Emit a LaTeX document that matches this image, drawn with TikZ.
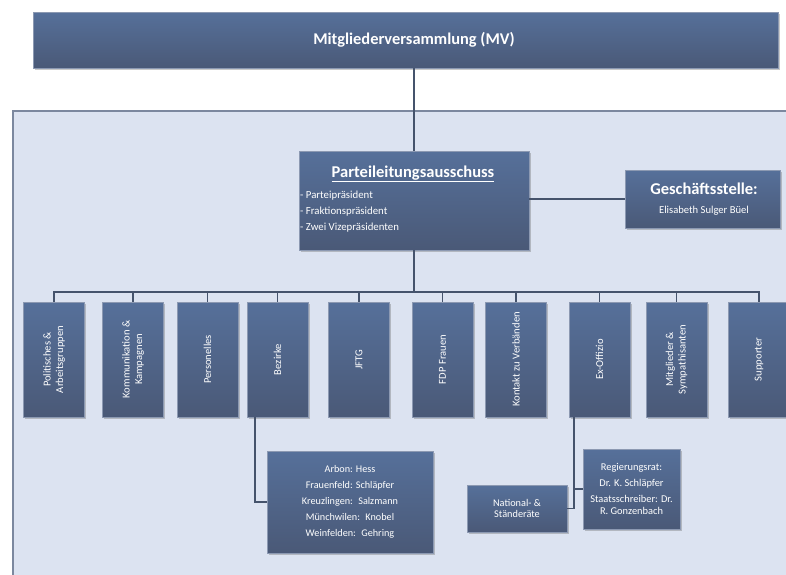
\documentclass[tikz,border=0pt]{standalone}
\usepackage{fontspec}
\setmainfont{Carlito}
\usetikzlibrary{shadows}
\definecolor{boxtop}{HTML}{56709A}
\definecolor{boxbot}{HTML}{4A5977}
\definecolor{boxedge}{HTML}{8C99B2}
\definecolor{panelfill}{HTML}{DCE3F1}
\definecolor{paneledge}{HTML}{7C889F}
\definecolor{connc}{HTML}{45536C}
\tikzset{
  orgbox/.style={rectangle, draw=boxedge, line width=0.5pt, top color=boxtop, bottom color=boxbot,
    drop shadow={shadow xshift=1.5pt, shadow yshift=-1.5pt, opacity=0.35, fill=black!60},
    inner sep=0pt, text=white, align=center},
  vbox/.style={orgbox, minimum width=61pt, minimum height=115pt},
  vlab/.style={rotate=90, text=white, font=\fontsize{10.6}{12.5}\selectfont, align=center, inner sep=0pt},
  wtext/.style={text=white, inner sep=0pt, align=center},
  conn/.style={draw=connc, line width=1.8pt},
}
\begin{document}
\begin{tikzpicture}[x=1pt,y=-1pt]
\useasboundingbox (0,0) rectangle (786,574);
\clip (0,0) rectangle (786,574);
\fill[white] (0,0) rectangle (786,574);
\node[draw=paneledge, fill=panelfill, line width=1.5pt, minimum width=790pt, minimum height=480pt,
  anchor=north west, inner sep=0pt] (panel) at (12,110) {};

% top
\node[orgbox, minimum width=745pt, minimum height=56pt] (mv) at (405.5,40) {};
\node[wtext, font=\bfseries\fontsize{16.4}{18}\selectfont] (mvt) at (414,40) {Mitgliederversammlung (MV)};

% Parteileitungsausschuss
\node[orgbox, minimum width=230pt, minimum height=99pt] (pla) at (414,200.5) {};
\node[wtext, font=\bfseries\fontsize{16.5}{18}\selectfont] (plat) at (413,174) {\underline{Parteileitungsausschuss}};
\node[wtext, anchor=west, font=\fontsize{10.8}{12}\selectfont] (pl1) at (300,196) {- Parteipräsident};
\node[wtext, anchor=west, font=\fontsize{10.8}{12}\selectfont] (pl2) at (300,212) {- Fraktionspräsident};
\node[wtext, anchor=west, font=\fontsize{10.8}{12}\selectfont] (pl3) at (300,228) {- Zwei Vizepräsidenten};

% Geschäftsstelle
\node[orgbox, minimum width=155pt, minimum height=58pt] (gs) at (702.5,199) {};
\node[wtext, font=\bfseries\fontsize{16.5}{18}\selectfont] (gst) at (704,189) {Geschäftsstelle:};
\node[wtext, font=\fontsize{10.6}{12}\selectfont] (gsn) at (704,211) {Elisabeth Sulger Büel};

% second row
\coordinate (bus) at (0,292);
\node[vbox, label={[vlab]center:Politisches \&\\Arbeitsgruppen}] (b1) at (54,359.5) {};
\node[vbox, label={[vlab]center:Kommunikation \&\\Kampagnen}] (b2) at (133,359.5) {};
\node[vbox, label={[vlab]center:Personelles}] (b3) at (207.5,359.5) {};
\node[vbox, label={[vlab]center:Bezirke}] (b4) at (277.5,359.5) {};
\node[vbox, label={[vlab]center:JFTG}] (b5) at (359,359.5) {};
\node[vbox, label={[vlab]center:FDP Frauen}] (b6) at (442.5,359.5) {};
\node[vbox, label={[vlab]center:Kontakt zu Verbänden}] (b7) at (516,359.5) {};
\node[vbox, label={[vlab]center:Ex-Offizio}] (b8) at (599.5,359.5) {};
\node[vbox, label={[vlab]center:Mitglieder \&\\Sympathisanten}] (b9) at (676.5,359.5) {};
\node[vbox, label={[vlab]center:Supporter}] (b10) at (759,359.5) {};

% sub boxes
\node[orgbox, minimum width=166pt, minimum height=102pt, font=\fontsize{10.2}{16}\selectfont] (bz) at (350,502)
  {Arbon: Hess\\Frauenfeld: Schläpfer\\Kreuzlingen:~ Salzmann\\Münchwilen:~ Knobel\\Weinfelden:~ Gehring};
\node[orgbox, minimum width=97pt, minimum height=80pt, font=\fontsize{10.4}{12}\selectfont] (rr) at (631.5,489)
  {Regierungsrat:\\[4pt]Dr. K. Schläpfer\\[4pt]Staatsschreiber: Dr.\\R. Gonzenbach};
\node[orgbox, minimum width=100pt, minimum height=47pt, font=\fontsize{10.3}{11}\selectfont] (nat) at (517,508.5)
  {National- \&\\Ständeräte};

% connectors
\draw[conn] (pla.north |- mv.south) -- (pla.north);
\draw[conn] (gs.west -| pla.east) -- (gs.west);
\draw[conn] (pla.south) -- (pla.south |- bus);
\draw[conn] (b1.north) -- (b1.north |- bus) -- (b10.north |- bus) -- (b10.north);
\foreach \i in {2,...,9} { \draw[conn] (b\i.north) -- (b\i.north |- bus); }
\draw[conn] ([xshift=8pt]b4.south west) |- (bz.west);
\coordinate (exs) at ([xshift=5pt]b8.south west);
\draw[conn] (exs) |- (rr.west);
\draw[conn] (exs) |- (nat.east);
\end{tikzpicture}
\end{document}
